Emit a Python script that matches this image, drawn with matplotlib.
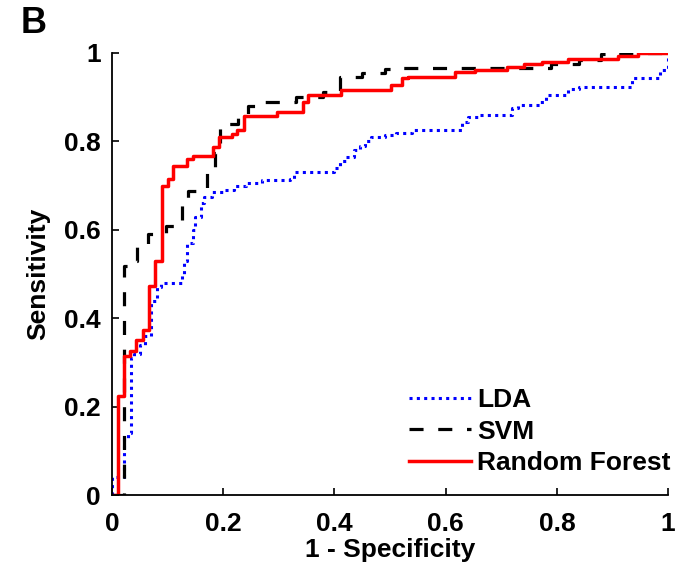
import numpy as np
import matplotlib
matplotlib.use("Agg")
import matplotlib.pyplot as plt

plt.rcParams['font.family'] = ['Liberation Sans', 'DejaVu Sans']
plt.rcParams['font.weight'] = 'bold'

# ROC points (1-specificity, sensitivity)
lda_fpr = [0, 0, 0.022, 0.028, 0.034, 0.04, 0.05, 0.06, 0.07, 0.08, 0.088, 0.125, 0.13,
           0.135, 0.145, 0.15, 0.16, 0.165, 0.18, 0.2, 0.22, 0.24, 0.27, 0.32, 0.327,
           0.4, 0.41, 0.42, 0.435, 0.445, 0.455, 0.465, 0.49, 0.51, 0.54, 0.63, 0.64,
           0.66, 0.72, 0.73, 0.77, 0.78, 0.82, 0.84, 0.935, 0.985, 1.0, 1.0]
lda_tpr = [0, 0.04, 0.13, 0.14, 0.31, 0.32, 0.34, 0.36, 0.44, 0.47, 0.48, 0.5, 0.53,
           0.57, 0.6, 0.63, 0.66, 0.675, 0.685, 0.69, 0.70, 0.705, 0.713, 0.714, 0.731,
           0.74, 0.755, 0.765, 0.78, 0.79, 0.80, 0.81, 0.815, 0.82, 0.825, 0.845, 0.855,
           0.86, 0.875, 0.882, 0.89, 0.905, 0.918, 0.922, 0.943, 0.961, 0.985, 1.0]

svm_fpr = [0, 0.022, 0.03, 0.045, 0.065, 0.097, 0.125, 0.137, 0.17, 0.185, 0.195,
           0.227, 0.245, 0.26, 0.33, 0.38, 0.41, 0.45, 0.49, 0.52, 0.79, 0.84, 0.88,
           0.9, 1.0]
svm_tpr = [0, 0.517, 0.53, 0.565, 0.59, 0.608, 0.66, 0.688, 0.73, 0.774, 0.84,
           0.86, 0.88, 0.89, 0.9, 0.912, 0.946, 0.955, 0.963, 0.967, 0.975, 0.984, 0.997,
           1.0, 1.0]

rf_fpr = [0, 0.011, 0.022, 0.032, 0.043, 0.055, 0.067, 0.077, 0.089, 0.101, 0.11,
          0.135, 0.145, 0.182, 0.192, 0.215, 0.224, 0.237, 0.296, 0.343, 0.353, 0.411,
          0.501, 0.522, 0.533, 0.617, 0.653, 0.71, 0.74, 0.773, 0.82, 0.91, 0.946, 1.0]
rf_tpr = [0, 0.224, 0.314, 0.326, 0.35, 0.373, 0.473, 0.53, 0.699, 0.714, 0.744,
          0.76, 0.767, 0.787, 0.81, 0.817, 0.826, 0.857, 0.866, 0.889, 0.905, 0.916,
          0.928, 0.943, 0.946, 0.956, 0.961, 0.969, 0.974, 0.979, 0.986, 0.994, 1.0, 1.0]

tick_labels = ['0', '0.2', '0.4', '0.6', '0.8', '1']

fig = plt.figure(figsize=(6.96, 5.76), dpi=100)
ax = fig.add_axes([0.161, 0.1406, 0.799, 0.7674])

ax.plot(lda_fpr, lda_tpr, drawstyle='steps-post', color='#0000ff', lw=2.2,
        linestyle=(0, (1, 1.4)), dash_capstyle='butt', label='LDA')
ax.plot(svm_fpr, svm_tpr, drawstyle='steps-post', color='black', lw=2.3,
        linestyle=(0, (4.4, 4.6)), label='SVM')
ax.plot(rf_fpr, rf_tpr, drawstyle='steps-post', color='#ff0000', lw=2.5,
        label='Random Forest')

ax.set_xlim(0, 1)
ax.set_ylim(0, 1)
ax.set_xticks(np.linspace(0, 1, 6))
ax.set_yticks(np.linspace(0, 1, 6))
ax.set_xticklabels(tick_labels)
ax.set_yticklabels(tick_labels)
ax.tick_params(direction='in', length=5, width=1.2, labelsize=19)
ax.tick_params(axis='x', pad=12)
ax.tick_params(axis='y', pad=8)
for s in ['top', 'right']:
    ax.spines[s].set_visible(False)
for s in ['left', 'bottom']:
    ax.spines[s].set_linewidth(1.3)

ax.set_xlabel('1 - Specificity', fontsize=19, fontweight='bold', labelpad=2)
ax.set_ylabel('Sensitivity', fontsize=19, fontweight='bold', labelpad=10)

leg = ax.legend(loc='lower right', bbox_to_anchor=(1.005, 0.045), frameon=False,
                fontsize=19, handlelength=2.35, handletextpad=0.25,
                labelspacing=0.28, borderaxespad=0, borderpad=0)

fig.text(0.03, 0.99, 'B', fontsize=26, fontweight='bold', va='top', ha='left')

fig.savefig('out.png', dpi=100)
